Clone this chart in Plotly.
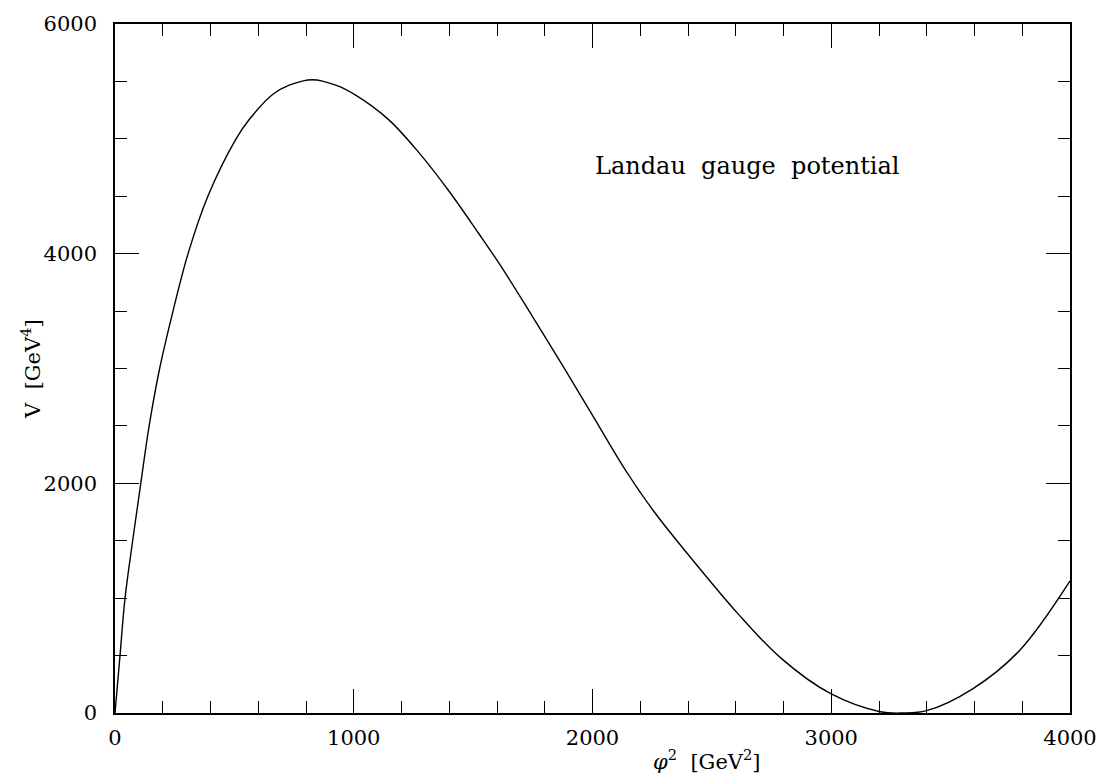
import plotly.graph_objects as go

phi2 = [0, 21, 42, 74, 108, 143, 187, 243, 306, 389, 507, 563, 660, 730, 827, 925, 1008,
        1147, 1272, 1397, 1522, 1613, 1745, 1884, 2009, 2134, 2259, 2385, 2607,
        2788, 2996, 3205, 3302, 3399, 3594, 3789, 4000]
V = [0, 500, 1000, 1500, 2000, 2500, 3000, 3500, 4000, 4500, 5000, 5170, 5386, 5467, 5515,
     5467, 5380, 5165, 4882, 4550, 4180, 3902, 3465, 2994, 2562, 2129, 1750, 1420,
     870, 480, 170, 11, 0, 20, 213, 545, 1150]

x_ticks = [0, 1000, 2000, 3000, 4000]
y_ticks = [0, 2000, 4000, 6000]
annotation_text = "Landau  gauge  potential"

FONT = "DejaVu Serif"

fig = go.Figure()
fig.add_trace(go.Scatter(x=phi2, y=V, mode="lines",
                         line=dict(color="black", width=1.4, shape="spline", smoothing=1.0),
                         showlegend=False, hoverinfo="skip"))

axis_common = dict(showgrid=False, zeroline=False, showline=True, linecolor="black",
                   linewidth=1.5, mirror="ticks", ticks="inside", ticklen=24, tickwidth=1.3,
                   tickcolor="black", tickfont=dict(family=FONT, size=21, color="black"))

fig.update_xaxes(range=[0, 4000], tickvals=x_ticks, ticktext=[str(v) for v in x_ticks],
                 minor=dict(dtick=200, ticks="inside", ticklen=12, tickwidth=1.3, tickcolor="black"),
                 ticklabelstandoff=5, **axis_common)
fig.update_yaxes(range=[0, 6000], tickvals=y_ticks, ticktext=[str(v) for v in y_ticks],
                 minor=dict(dtick=500, ticks="inside", ticklen=12, tickwidth=1.3, tickcolor="black"),
                 ticklabelstandoff=12, **axis_common)

fig.add_annotation(text=annotation_text, xref="x", yref="y", x=2000, y=4763,
                   xanchor="left", yanchor="middle", showarrow=False,
                   font=dict(family=FONT, size=24, color="black"))
fig.add_annotation(text="<i>φ</i><sup>2</sup>  [GeV<sup>2</sup>]", xref="paper", yref="paper",
                   x=(709 - 115) / (1074 - 115), y=-0.068, xanchor="center", yanchor="middle",
                   showarrow=False, font=dict(family=FONT, size=21, color="black"))
fig.add_annotation(text="V  [GeV<sup>4</sup>]", xref="paper", yref="paper",
                   x=-0.0886, y=0.5, xanchor="center", yanchor="middle", textangle=-90,
                   showarrow=False, font=dict(family=FONT, size=21, color="black"))

fig.update_layout(width=1109, height=778, margin=dict(l=115, r=35, t=19, b=65),
                  plot_bgcolor="white", paper_bgcolor="white")
fig.write_html("out.html", config={"displayModeBar": False},
               post_script="document.body.style.margin='0';document.body.style.overflow='hidden';")
